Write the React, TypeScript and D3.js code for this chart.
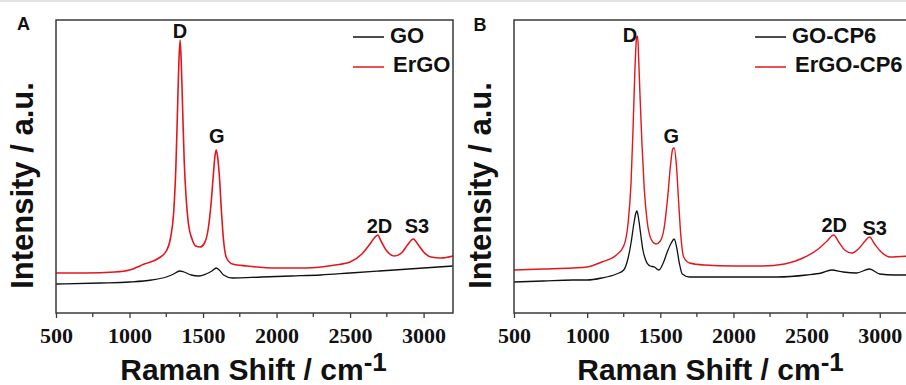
import React, { useEffect, useRef } from 'react';
import * as d3 from 'd3';

// Panel A: GO / ErGO (intensity in a.u.)
const shiftGO = [500, 800, 1000, 1150, 1250, 1300, 1340, 1370, 1420, 1470, 1520, 1560, 1590, 1610, 1640, 1700, 1900, 2100, 2300, 2500, 2700, 2900, 3100, 3200];
const intensityGO = [29, 30, 31, 33, 36, 39, 42, 41, 38, 37, 39, 42, 45, 43, 38, 35, 36, 37, 38, 40, 42, 44, 46, 47];

const shiftErGO = [500, 700, 900, 1000, 1100, 1200, 1250, 1280, 1300, 1315, 1325, 1335, 1344, 1352, 1362, 1372, 1385, 1400, 1425, 1450, 1480, 1510, 1535, 1555, 1570, 1582, 1590, 1600, 1612, 1625, 1640, 1660, 1700, 1800, 2000, 2200, 2400, 2500, 2580, 2630, 2665, 2688, 2710, 2750, 2800, 2850, 2890, 2930, 2960, 3000, 3050, 3120, 3200];
const intensityErGO = [40, 40, 41, 43, 49, 55, 62, 76, 100, 145, 195, 248, 273, 250, 200, 152, 115, 90, 74, 67, 66, 70, 84, 110, 138, 158, 163, 155, 135, 102, 72, 55, 49, 47, 45, 45, 48, 51, 59, 68, 75, 78, 72, 62, 57, 60, 68, 74, 69, 61, 56, 55, 57];

// Panel B: GO-CP6 / ErGO-CP6
const shiftGOCP6 = [500, 700, 900, 1000, 1100, 1200, 1250, 1280, 1300, 1320, 1333, 1340, 1350, 1365, 1380, 1400, 1430, 1460, 1490, 1520, 1550, 1575, 1595, 1610, 1630, 1650, 1700, 2000, 2300, 2500, 2600, 2670, 2750, 2840, 2930, 3000, 3100, 3200];
const intensityGOCP6 = [31, 32, 33, 33, 35, 39, 43, 55, 70, 90, 100, 102, 96, 80, 64, 53, 47, 46, 43, 50, 62, 70, 74, 67, 50, 39, 36, 36, 36, 38, 40, 43, 41, 40, 44, 39, 38, 38];

const shiftErGOCP6 = [500, 700, 900, 1000, 1100, 1200, 1250, 1280, 1300, 1315, 1327, 1338, 1345, 1352, 1362, 1375, 1390, 1410, 1440, 1470, 1500, 1525, 1550, 1570, 1585, 1595, 1610, 1625, 1640, 1660, 1700, 1800, 2000, 2200, 2350, 2475, 2580, 2640, 2685, 2720, 2760, 2810, 2860, 2900, 2930, 2965, 3010, 3070, 3200];
const intensityErGOCP6 = [43, 44, 45, 46, 51, 58, 67, 90, 130, 190, 245, 275, 277, 255, 215, 168, 125, 92, 73, 69, 72, 84, 115, 148, 164, 165, 148, 112, 78, 56, 50, 48, 47, 47, 49, 55, 64, 72, 78, 71, 63, 60, 65, 72, 76, 69, 61, 56, 57];

const xTicks = [500, 1000, 1500, 2000, 2500, 3000];
const xMinorTicks = [750, 1250, 1750, 2250, 2750];
const peakNames = ['D', 'G', '2D', 'S3'];
const peakLabelShiftA = [1344, 1593, 2700, 2955];
const peakLabelLevelA = [275, 170, 80, 80];
const peakLabelShiftB = [1292, 1575, 2689, 2965];
const peakLabelLevelB = [271, 170, 81, 78];

const RED = '#e3161b';
const BLACK = '#111';
const SANS = "'Liberation Sans', Arial, sans-serif";
const SERIF = "'Liberation Serif', 'Times New Roman', serif";

const App = () => {
  const ref = useRef<SVGSVGElement>(null);

  useEffect(() => {
    const svg = d3.select(ref.current);
    svg.selectAll('*').remove();

    // faint line at the very top of the picture
    svg.append('rect').attr('x', 0).attr('y', 0).attr('width', 906).attr('height', 2).attr('fill', '#e2e2e2');

    const panels = [
      {
        left: 56, right: 453, letter: 'A', letterX: 23.5, letterY: 30,
        series: [
          { name: 'GO', xs: shiftGO, ys: intensityGO, color: BLACK, width: 1.3 },
          { name: 'ErGO', xs: shiftErGO, ys: intensityErGO, color: RED, width: 1.6 },
        ],
        legendX: 353, labelShift: peakLabelShiftA, labelLevel: peakLabelLevelA,
      },
      {
        left: 514, right: 909, letter: 'B', letterX: 480, letterY: 31,
        series: [
          { name: 'GO-CP6', xs: shiftGOCP6, ys: intensityGOCP6, color: BLACK, width: 1.3 },
          { name: 'ErGO-CP6', xs: shiftErGOCP6, ys: intensityErGOCP6, color: RED, width: 1.4 },
        ],
        legendX: 755, labelShift: peakLabelShiftB, labelLevel: peakLabelLevelB,
      },
    ];

    const top = 20;
    const bottom = 313;

    panels.forEach(p => {
      const x = d3.scaleLinear().domain([500, 3200]).range([p.left, p.right]);
      const y = d3.scaleLinear().domain([0, 293]).range([bottom, top]);
      const g = svg.append('g');

      // curves
      p.series.forEach(s => {
        const line = d3.line<number>()
          .x((d, i) => x(s.xs[i]))
          .y(d => y(d))
          .curve(d3.curveMonotoneX);
        g.append('path')
          .datum(s.ys)
          .attr('fill', 'none')
          .attr('stroke', s.color)
          .attr('stroke-width', s.width)
          .attr('stroke-linejoin', 'round')
          .attr('d', line);
      });

      // frame
      g.append('rect')
        .attr('x', p.left).attr('y', top)
        .attr('width', p.right - p.left).attr('height', bottom - top)
        .attr('fill', 'none').attr('stroke', '#3a3a3a').attr('stroke-width', 1.5);

      // x axis
      const ax = g.append('g')
        .attr('transform', `translate(0,${bottom})`)
        .call(d3.axisBottom(x).tickValues(xTicks).tickSize(5).tickFormat(d => `${d}`));
      ax.attr('font-family', SERIF).attr('font-size', 22).attr('font-weight', 'bold');
      ax.select('.domain').remove();
      ax.selectAll('line').attr('stroke', '#3a3a3a').attr('stroke-width', 1.3);
      ax.selectAll('text')
        .attr('y', 30).attr('dy', 0)
        .attr('fill', '#111')
        .attr('font-family', SERIF).attr('font-weight', 'bold').attr('font-size', 22);

      g.selectAll('.minor')
        .data(xMinorTicks)
        .enter().append('line')
        .attr('x1', d => x(d)).attr('x2', d => x(d))
        .attr('y1', bottom).attr('y2', bottom + 4)
        .attr('stroke', '#3a3a3a').attr('stroke-width', 1.3);

      // axis titles
      const xt = g.append('text')
        .attr('x', (p.left + p.right) / 2 - 1).attr('y', 380)
        .attr('text-anchor', 'middle')
        .attr('font-family', SANS).attr('font-weight', 'bold').attr('font-size', 30)
        .attr('fill', '#111');
      xt.append('tspan').text('Raman Shift / cm');
      xt.append('tspan').attr('dy', -9).attr('font-size', 26).text('-1');

      g.append('text')
        .attr('transform', `translate(${p.left - 23},185.5) rotate(-90)`)
        .attr('text-anchor', 'middle')
        .attr('font-family', SANS).attr('font-weight', 'bold').attr('font-size', 31)
        .attr('fill', '#111')
        .text('Intensity / a.u.');

      // panel letter
      g.append('text')
        .attr('x', p.letterX).attr('y', p.letterY)
        .attr('text-anchor', 'middle')
        .attr('font-family', SANS).attr('font-weight', 'bold').attr('font-size', 18)
        .attr('fill', '#111')
        .text(p.letter);

      // peak labels
      g.selectAll('.peak')
        .data(peakNames)
        .enter().append('text')
        .attr('x', (d, i) => x(p.labelShift[i]))
        .attr('y', (d, i) => y(p.labelLevel[i]))
        .attr('text-anchor', 'middle')
        .attr('font-family', SANS).attr('font-weight', 'bold').attr('font-size', 20)
        .attr('fill', '#111')
        .text(d => d);

      // legend
      p.series.forEach((s, i) => {
        const ly = 37 + i * 30;
        g.append('line')
          .attr('x1', p.legendX).attr('x2', p.legendX + 31)
          .attr('y1', ly).attr('y2', ly)
          .attr('stroke', s.color).attr('stroke-width', 1.5);
        g.append('text')
          .attr('x', p.legendX + 37 + i * 3).attr('y', ly + 6 - i * 1)
          .attr('font-family', SANS).attr('font-weight', 'bold').attr('font-size', 22)
          .attr('fill', '#111')
          .text(s.name);
      });
    });
  }, []);

  return (
    <svg ref={ref} width={906} height={385} style={{ position: 'absolute', left: 0, top: 0, background: '#fff' }} />
  );
};

export default App;
